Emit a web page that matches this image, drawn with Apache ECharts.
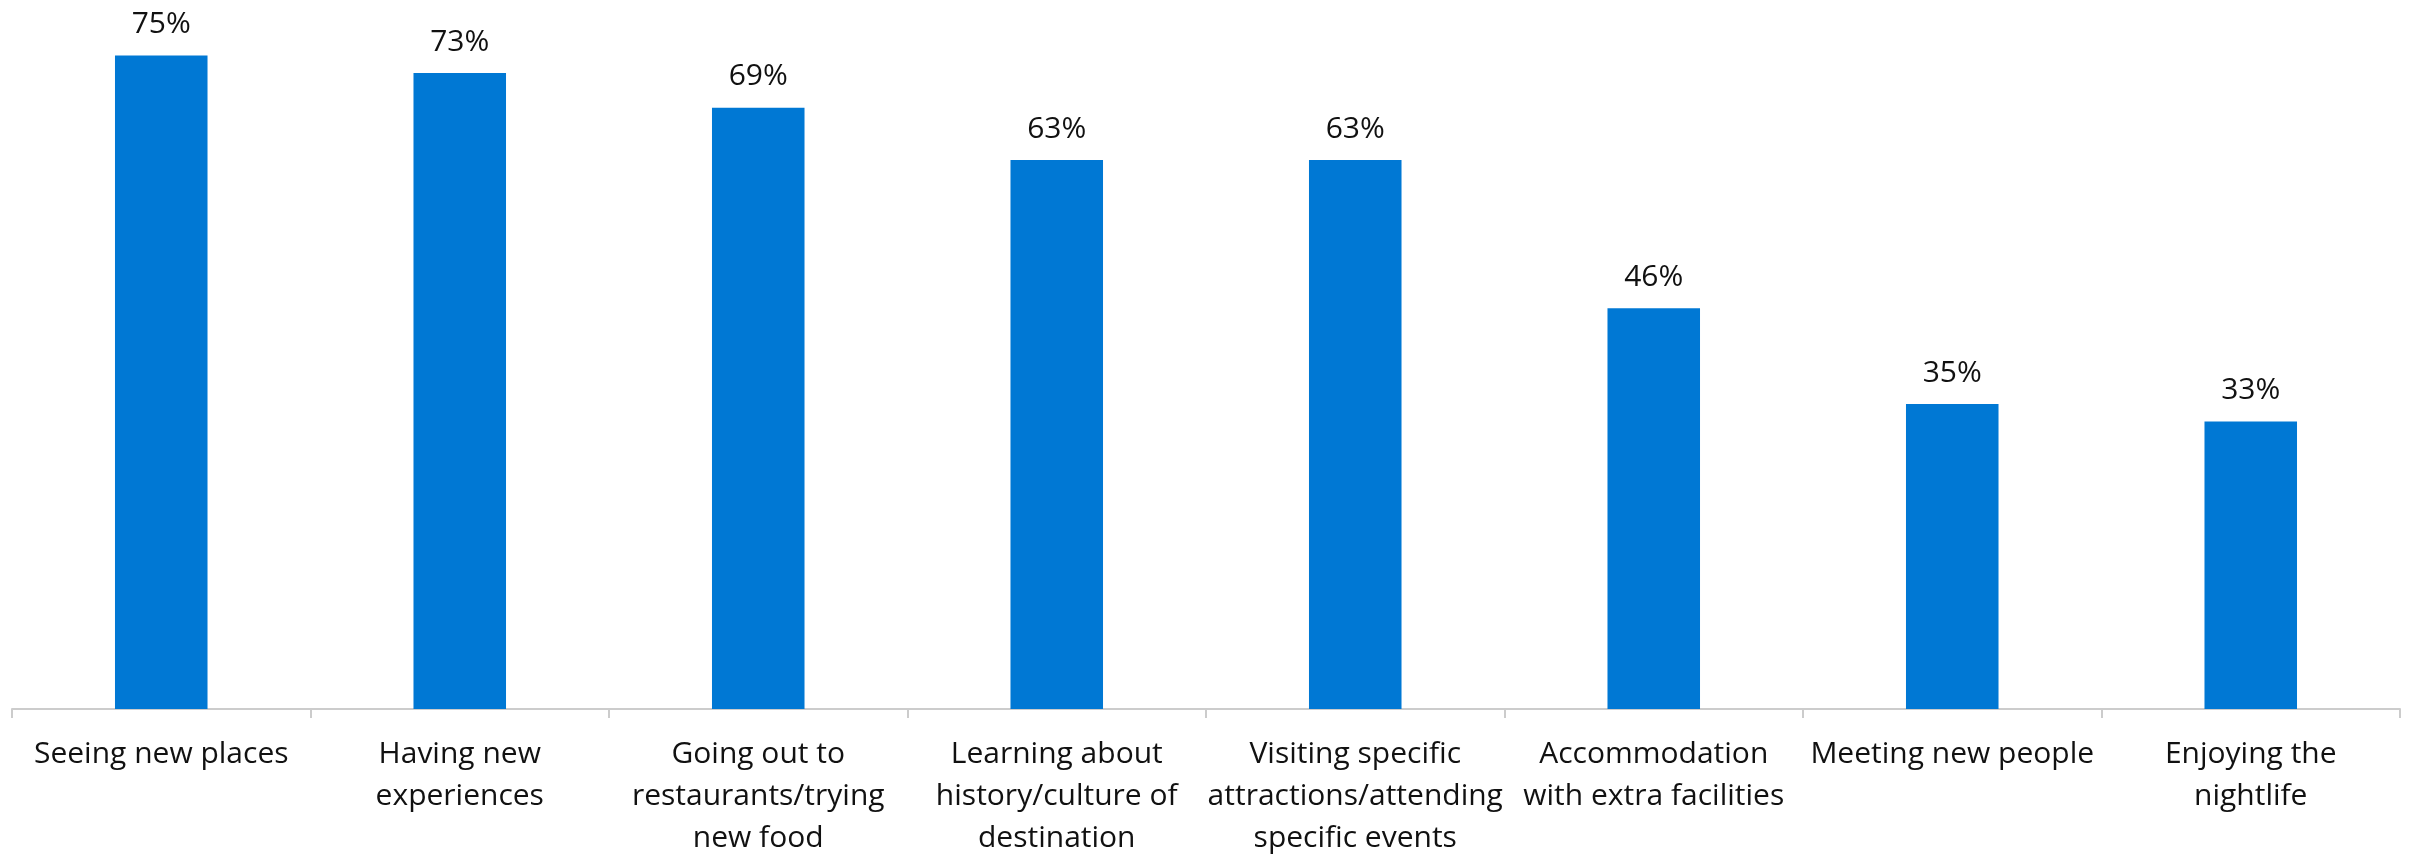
<!DOCTYPE html>
<html>
<head>
<meta charset="utf-8">
<script src="https://cdn.jsdelivr.net/npm/echarts@6/dist/echarts.min.js"></script>
<style>
  html, body { margin: 0; padding: 0; background: #ffffff; }
  #chart { width: 2410px; height: 859px; }
</style>
</head>
<body>
<div id="chart"></div>
<script>
// Travel activity categories (line breaks as shown under the axis)
const categories = [
  'Seeing new places',
  'Having new\nexperiences',
  'Going out to\nrestaurants/trying\nnew food',
  'Learning about\nhistory/culture of\ndestination',
  'Visiting specific\nattractions/attending\nspecific events',
  'Accommodation\nwith extra facilities',
  'Meeting new people',
  'Enjoying the\nnightlife'
];

// Share of respondents, percent
const shares = [75, 73, 69, 63, 63, 46, 35, 33];

const FONT = '"Open Sans", "Noto Sans", sans-serif';

const chart = echarts.init(document.getElementById('chart'), null, { renderer: 'canvas' });

chart.setOption({
  animation: false,
  backgroundColor: '#ffffff',
  grid: { left: 12, right: 10, top: 12, bottom: 147, containLabel: false },
  xAxis: {
    type: 'category',
    data: categories,
    boundaryGap: true,
    axisLine: { show: true, lineStyle: { color: '#cccccc', width: 2 } },
    axisTick: { show: true, length: 9, lineStyle: { color: '#cccccc', width: 2 } },
    axisLabel: {
      interval: 0,
      margin: 24,
      color: '#111111',
      fontFamily: FONT,
      fontSize: 30,
      lineHeight: 42,
      align: 'center',
      verticalAlign: 'top'
    }
  },
  yAxis: {
    type: 'value',
    min: 0,
    max: 80,
    show: false,
    splitLine: { show: false }
  },
  series: [{
    type: 'bar',
    data: shares,
    barWidth: '31%',
    itemStyle: { color: '#0078d4' },
    label: {
      show: true,
      position: 'top',
      distance: 13,
      color: '#111111',
      fontFamily: FONT,
      fontSize: 30,
      lineHeight: 36,
      formatter: p => p.value + '%'
    }
  }]
});
</script>
</body>
</html>
